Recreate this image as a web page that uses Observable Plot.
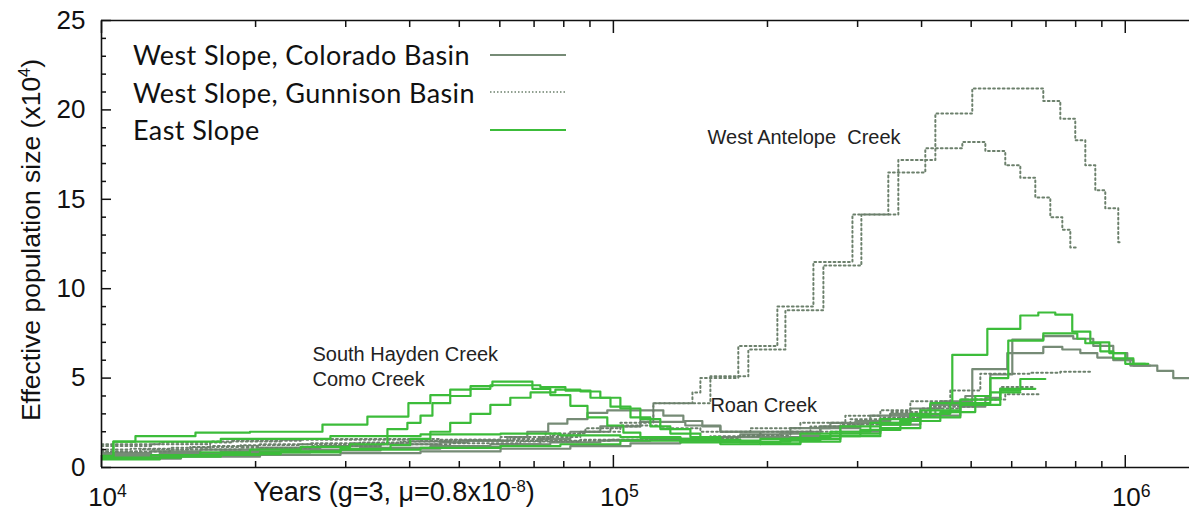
<!DOCTYPE html>
<html><head><meta charset="utf-8">
<script src="https://cdn.jsdelivr.net/npm/d3@7"></script>
<script src="https://cdn.jsdelivr.net/npm/@observablehq/plot@0.6"></script>
<style>
body{margin:0;background:#fff;}
#wrap{position:relative;width:1189px;height:525px;overflow:hidden;font-family:"Liberation Sans",Arial,sans-serif;}
#legend{position:absolute;left:133px;top:36px;font-family:Lato,"Open Sans",sans-serif;font-size:27px;letter-spacing:0.4px;color:#111;}
.row{display:flex;align-items:center;height:37.5px;}
.row span{display:inline-block;width:357px;white-space:nowrap;}
#xtitle{position:absolute;left:394px;top:477px;transform:translateX(-50%);font-size:27px;color:#111;white-space:nowrap;}
#ytitle{position:absolute;left:31px;top:240px;transform:translate(-50%,-50%) rotate(-90deg);font-size:26.5px;color:#111;white-space:nowrap;}
sup{font-size:0.62em;vertical-align:0.55em;line-height:0;}
</style></head><body>
<div id="wrap">
<div id="chart"></div>
<div id="legend"></div>
<div id="xtitle">Years (g=3, μ=0.8x10<sup>-8</sup>)</div>
<div id="ytitle">Effective population size (x10<sup>4</sup>)</div>
</div>
<script>
// ---- series names ----
const groups = ["West Slope, Colorado Basin", "West Slope, Gunnison Basin", "East Slope"];

// ---- West Slope, Colorado Basin (solid) : step start years (last = end) and Ne (x10^4)
const colorado1Years = [10000,12500,15600,20400,26800,35100,45900,51900,62100,67900,74600,81300,89000,97300,125200,137000,149200,161800,185200,221700,265400,317700,380300,435200,502500,588200,691600,753400,816900,881900,947500,1023000,1119000];
const colorado1Ne = [0.8,0.9,1.0,1.1,1.2,1.3,1.4,1.5,1.7,2.0,2.45,2.7,3.05,3.2,2.9,2.6,2.3,2.0,2.0,2.2,2.5,2.9,3.3,3.7,5.5,6.4,6.75,6.6,6.4,6.15,6.0,5.7];
const colorado2Years = [10000,13000,17100,23400,32000,43900,57500,75300,94300,118100,147900,177000,212000,253700,297000,347500,416100,487000,545000,601600,691600,791400,866000,947500,1009000,1037000,1155000,1241000,1340000];
const colorado2Ne = [0.7,0.8,0.9,1.0,1.1,1.2,1.3,1.4,1.5,1.6,1.7,1.85,2.0,2.3,2.6,3.0,3.5,4.0,5.2,7.15,7.35,7.2,6.8,6.4,6.0,5.7,5.4,5.0];
const colorado3Years = [10000,13600,18700,25600,35100,45900,60200,72000,82400,94300,112900,138200,161800,193700,231900,277600,332300,397800,476200,532900,570000];
const colorado3Ne = [0.6,0.75,0.85,0.95,1.05,1.15,1.3,1.6,2.0,2.3,2.55,2.35,2.0,1.7,1.75,2.0,2.4,2.9,3.4,3.9];
const colorado4Years = [10000,14300,20400,29300,42000,60200,82400,108000,135200,169300,212000,253700,303700,363600,425600,487000];
const colorado4Ne = [0.5,0.6,0.7,0.8,0.9,1.05,1.2,1.35,1.5,1.7,1.9,2.2,2.5,2.9,3.6];

// ---- West Slope, Gunnison Basin (dotted)
const gunnison1Years = [10000,11400,13600,16300,20400,25600,32000,40100,50300,62900,75300,86200,98700,112900,119700,154700,183500,216800,257200,305100,360300,425600,502500,691600,746600,798600,835500,873900,914000,969000,977800];
const gunnison1Ne = [1.0,1.05,1.1,1.2,1.3,1.35,1.4,1.45,1.5,1.6,1.8,2.0,2.3,2.7,3.6,5.1,6.6,8.8,11.3,14.15,17.2,19.8,21.2,20.5,19.5,18.3,16.9,15.5,14.5,12.6];
const gunnison2Years = [10000,11900,14900,18700,24500,30600,38400,48000,60200,73700,88200,103200,119700,142700,147900,175400,209100,245900,293100,344400,406800,480500,532900,582900,623700,667200,713800,753400,781000,802200];
const gunnison2Ne = [0.9,1.0,1.15,1.25,1.3,1.35,1.45,1.55,1.7,1.9,2.2,2.5,3.6,4.2,5.0,6.8,9.0,11.5,14.15,16.5,17.85,18.2,17.7,16.9,16.2,15.1,14.0,13.3,12.3];
const gunnison3Years = [10000,12500,16300,22400,30600,42000,55000,72000,86200,103200,123500,147900,185200,231900,283900,332300,380300,455200,521000,652400,746600,854500];
const gunnison3Ne = [1.2,1.3,1.45,1.55,1.55,1.5,1.5,1.7,2.0,2.35,2.2,2.0,2.2,2.5,2.9,3.2,3.7,4.3,5.25,5.3,5.35];
const gunnison4Years = [10000,13600,18700,25600,35100,48000,65800,86200,112900,141400,177000,221700,277600,332300,397800,476200,570000,667200];
const gunnison4Ne = [0.9,1.0,1.1,1.2,1.3,1.35,1.45,1.55,1.6,1.65,1.8,2.0,2.4,2.8,3.3,3.8,4.5];
const gunnison5Years = [10000,13000,17900,24500,33500,45900,60200,78800,98700,123500,154700,193700,242600,290400,347500,416100,509300,582900,682400];
const gunnison5Ne = [1.3,1.4,1.5,1.6,1.6,1.55,1.5,1.5,1.55,1.6,1.75,2.0,2.3,2.7,3.1,3.4,3.8,4.1];

// ---- East Slope (green)
const east1Years = [10000,10550,11650,15260,19500,27020,33070,39770,43900,48000,52600,58030,69470,75300,82400,89000,97300,104600,112900,135200,161800,193700,231900,277600,332300,380300,416100,459300,537700,623700,676300,730000,787800,854500,930700,1000000,1094000];
const east1Ne = [0.6,1.45,1.75,1.95,2.0,2.4,2.85,3.6,4.05,4.35,4.55,4.8,4.4,4.05,3.45,2.8,2.35,1.95,1.65,1.4,1.3,1.35,1.6,1.9,2.4,2.9,3.6,6.3,7.75,8.5,8.67,8.55,7.6,7.0,6.4,5.8];
const east2Years = [10000,12500,15600,19500,24500,30600,36190,39590,42000,44310,48000,52600,57500,72000,80590,90200,98700,108000,118100,129200,147900,177000,212000,253700,303700,363600,435200,509300,545000,590800,691600,805900,835500,893800,947500,1037000,1109000];
const east2Ne = [0.5,0.7,0.85,1.0,1.15,1.3,2.15,2.5,2.9,3.6,4.0,4.4,4.6,4.5,4.3,3.9,3.4,2.8,2.3,1.9,1.55,1.4,1.5,1.75,2.1,2.6,3.1,4.0,5.0,7.1,7.5,7.2,6.95,6.5,6.1,5.8];
const east3Years = [10000,13000,17100,22400,29300,36700,40100,43900,48000,52600,57500,62900,68900,77040,86200,94300,103200,112900,123500,141400,161800,193700,231900,277600,332300,397800,476200,570000,623700,697900];
const east3Ne = [0.45,0.6,0.75,0.9,1.05,1.25,1.6,2.0,2.5,3.0,3.5,3.9,4.2,4.35,4.25,3.9,3.3,2.7,2.15,1.7,1.4,1.3,1.45,1.75,2.2,2.8,3.5,4.3,4.95];
const east4Years = [10000,14300,20400,29300,42000,60200,78800,103200,135200,161800,193700,231900,277600,332300,397800,476200,570000,667200];
const east4Ne = [0.55,0.7,0.85,1.0,1.1,1.2,1.3,1.5,1.6,1.5,1.6,1.9,2.3,2.7,3.2,3.8,4.4];
const east5Years = [10000,10550,17100,28000,42000,60200,78800,103200,135200,177000,221700,265400,317700,380300,455200,545000,623700];
const east5Ne = [0.65,1.45,1.6,1.75,1.85,1.9,1.8,1.7,1.5,1.45,1.65,2.0,2.5,3.0,3.6,4.2];

// ---- annotations
const annotationLabels = ["West Antelope  Creek", "South Hayden Creek", "Como Creek", "Roan Creek"];
const annotationYears = [152700, 25830, 25830, 154700];
const annotationNe = [18.46, 6.32, 4.92, 3.47];

// ---- ticks
const xMajorTicks = [1e4, 1e5, 1e6];
const xMajorExponents = ["4", "5", "6"];
const xMinorTicks = [2e4,3e4,4e4,5e4,6e4,7e4,8e4,9e4,2e5,3e5,4e5,5e5,6e5,7e5,8e5,9e5];
const yMajorTicks = [0,5,10,15,20,25];
const yMinorTicks = [1,2,3,4,6,7,8,9,11,12,13,14,16,17,18,19,21,22,23,24];

// ---- styles
const groupColors = ["#768b76", "#6c806c", "#3cbc3a"];

const curves = [
  {group:0, years:colorado1Years, ne:colorado1Ne},
  {group:0, years:colorado2Years, ne:colorado2Ne},
  {group:0, years:colorado3Years, ne:colorado3Ne},
  {group:0, years:colorado4Years, ne:colorado4Ne},
  {group:1, years:gunnison1Years, ne:gunnison1Ne},
  {group:1, years:gunnison2Years, ne:gunnison2Ne},
  {group:1, years:gunnison3Years, ne:gunnison3Ne},
  {group:1, years:gunnison4Years, ne:gunnison4Ne},
  {group:1, years:gunnison5Years, ne:gunnison5Ne},
  {group:2, years:east1Years, ne:east1Ne},
  {group:2, years:east2Years, ne:east2Ne},
  {group:2, years:east3Years, ne:east3Ne},
  {group:2, years:east4Years, ne:east4Ne},
  {group:2, years:east5Years, ne:east5Ne}
];
const rows = curves.flatMap((c, i) => c.years.map((t, j) => ({id: i, group: c.group, t, ne: c.ne[Math.min(j, c.ne.length - 1)]})));
const annotations = annotationLabels.map((label, i) => ({label, t: annotationYears[i], ne: annotationNe[i]}));

const noText = () => "";
const chart = Plot.plot({
  width: 1189, height: 525,
  marginLeft: 101, marginRight: 0, marginTop: 20, marginBottom: 58,
  style: {fontFamily: '"Liberation Sans", Arial, sans-serif', color: "#111", background: "#fff"},
  x: {type: "log", domain: [1e4, 1.335e6]},
  y: {domain: [0, 25]},
  marks: [
    Plot.line(rows.filter(d => d.group === 0), {x: "t", y: "ne", z: "id", curve: "step-after", stroke: groupColors[0], strokeWidth: 2.2, clip: true}),
    Plot.line(rows.filter(d => d.group === 1), {x: "t", y: "ne", z: "id", curve: "step-after", stroke: groupColors[1], strokeWidth: 2, strokeDasharray: "1.8,3", clip: true}),
    Plot.line(rows.filter(d => d.group === 2), {x: "t", y: "ne", z: "id", curve: "step-after", stroke: groupColors[2], strokeWidth: 2.2, clip: true}),
    Plot.text(annotations, {x: "t", y: "ne", text: "label", textAnchor: "start", fontSize: 20, fill: "#222"}),
    Plot.ruleY([0, 25], {stroke: "#111", strokeWidth: 1.6}),
    Plot.ruleX([1e4], {stroke: "#111", strokeWidth: 1.6}),
    Plot.axisX(xMajorTicks, {anchor: "bottom", tickSize: -12, tickFormat: noText, label: null, strokeWidth: 1.5}),
    Plot.axisX(xMinorTicks, {anchor: "bottom", tickSize: -6, tickFormat: noText, label: null, strokeWidth: 1.5}),
    Plot.axisX(xMajorTicks, {anchor: "top", tickSize: -12, tickFormat: noText, label: null, strokeWidth: 1.5}),
    Plot.axisX(xMinorTicks, {anchor: "top", tickSize: -6, tickFormat: noText, label: null, strokeWidth: 1.5}),
    Plot.axisX(xMajorTicks, {anchor: "bottom", tickSize: 0, tickPadding: 20, fontSize: 26, label: null,
      tickFormat: (d, i) => "10^" + xMajorExponents[xMajorTicks.indexOf(d)]}),
    Plot.axisY(yMajorTicks, {anchor: "left", tickSize: -10, tickFormat: noText, label: null, strokeWidth: 1.5}),
    Plot.axisY(yMinorTicks, {anchor: "left", tickSize: -5, tickFormat: noText, label: null, strokeWidth: 1.5}),
    Plot.axisY(yMajorTicks, {anchor: "left", tickSize: 0, tickPadding: 16, fontSize: 26, label: null})
  ]
});
// turn "10^n" tick labels into real superscripts
d3.select(chart).selectAll("text").each(function() {
  const s = this.textContent;
  const m = /^10\^(\d)$/.exec(s);
  if (!m) return;
  const sel = d3.select(this);
  sel.text("10");
  sel.append("tspan").attr("dy", "-0.5em").attr("font-size", "0.68em").text(m[1]);
  sel.attr("dx", (+sel.attr("dx") || 0) + 6);
});
document.getElementById("chart").appendChild(chart);

// legend
const legend = document.getElementById("legend");
groups.forEach((g, i) => {
  const row = document.createElement("div");
  row.className = "row";
  const dash = i === 1 ? ' stroke-dasharray="1.5,2"' : '';
  const w = i === 1 ? 1.6 : 2.2;
  row.innerHTML = `<span>${g}</span><svg width="76" height="10"><line x1="0" y1="5" x2="76" y2="5" stroke="${groupColors[i]}" stroke-width="${w}"${dash}/></svg>`;
  legend.appendChild(row);
});
</script>
</body></html>
